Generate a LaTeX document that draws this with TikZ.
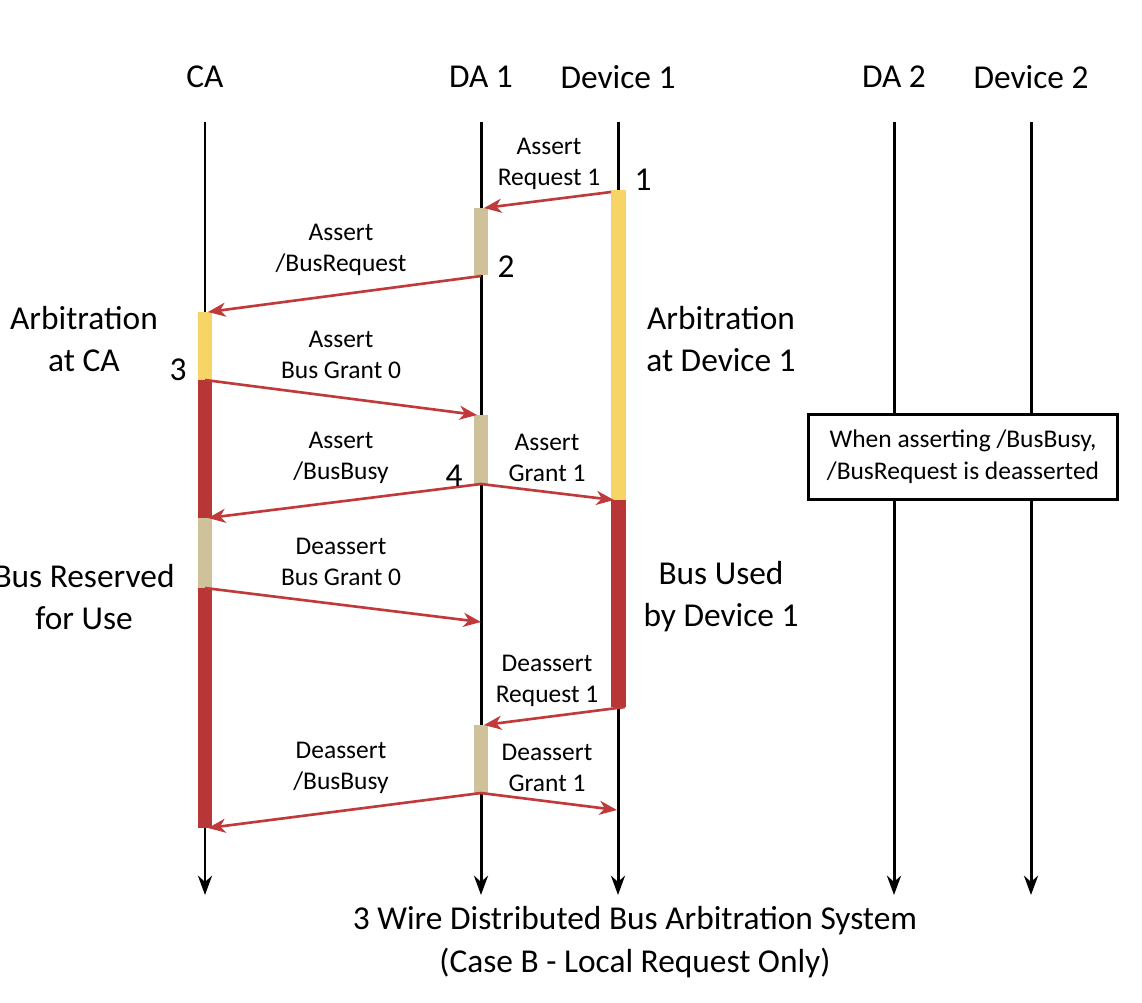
\documentclass[tikz,border=0pt]{standalone}
\usepackage{fontspec}
\setmainfont{Carlito}
\usetikzlibrary{arrows.meta}
\definecolor{busred}{HTML}{B83636}
\definecolor{arbyellow}{HTML}{F6D465}
\definecolor{waittan}{HTML}{CFC19A}
\definecolor{msgred}{HTML}{C0393B}

\begin{document}
\begin{tikzpicture}[
        x=0.02cm, y=-0.02cm,
        head/.style={font=\fontsize{19}{23}\selectfont},
        big/.style={font=\fontsize{19}{24}\selectfont, align=center},
        lbl/.style={font=\fontsize{14.5}{18}\selectfont, align=center},
        lifeline/.style={line width=1.7pt, -{Stealth[length=11pt,width=8pt]}},
        msg/.style={draw=msgred, line width=1.5pt, -{Stealth[length=10pt,width=8pt,inset=3pt]}},
        note/.style={draw, line width=1.7pt, fill=white, minimum width=6.2cm, minimum height=1.7cm, align=center, font=\fontsize{14.5}{18}\selectfont}
    ]
        \useasboundingbox (0,0) rectangle (1142,1002);

        % Heads
        \node[head] (ca) at (205,77) {CA};
        \node[head] (da1) at (481,77) {DA 1};
        \node[head] (dev1) at (618,77) {Device 1};
        \node[head] (da2) at (894,77) {DA 2};
        \node[head] (dev2) at (1031,77) {Device 2};

        % Lifelines
        \coordinate (caend) at (205,895);
        \coordinate (da1end) at (481,895);
        \coordinate (dev1end) at (618,895);
        \coordinate (da2end) at (894,895);
        \coordinate (dev2end) at (1031,895);
        \draw[lifeline] (205,122) -- (caend);
        \draw[lifeline] (481,122) -- (da1end);
        \draw[lifeline] (618,122) -- (dev1end);
        \draw[lifeline] (894,122) -- (da2end);
        \draw[lifeline] (1031,122) -- (dev2end);

        % Activity bars
        \fill[arbyellow] (611,190) rectangle (626,500);
        \fill[busred] (611,500) rectangle (626,707);
        \fill[waittan] (474,208) rectangle (488,275);
        \fill[waittan] (474,415) rectangle (488,484);
        \fill[waittan] (474,725) rectangle (488,793);
        \fill[arbyellow] (198,312) rectangle (212,380);
        \fill[busred] (198,380) rectangle (212,518);
        \fill[waittan] (198,518) rectangle (212,588);
        \fill[busred] (198,588) rectangle (212,828);

        % Message points
        \coordinate (req1s) at (611,192);
        \coordinate (req1e) at (484,208);
        \coordinate (busreqs) at (481,276);
        \coordinate (busreqe) at (208,312);
        \coordinate (grant0s) at (205,380);
        \coordinate (grant0e) at (477,415);
        \coordinate (busys) at (481,484);
        \coordinate (busye) at (208,518);
        \coordinate (grant1e) at (614,500);
        \coordinate (ungrant0s) at (205,588);
        \coordinate (ungrant0e) at (481,622);
        \coordinate (unreq1s) at (625,707);
        \coordinate (unreq1e) at (484,725);
        \coordinate (unbusys) at (481,793);
        \coordinate (unbusye) at (208,828);
        \coordinate (ungrant1e) at (617,810);

        % Messages
        \draw[msg] (req1s) -- (req1e);
        \draw[msg] (busreqs) -- (busreqe);
        \draw[msg] (grant0s) -- (grant0e);
        \draw[msg] (busys) -- (busye);
        \draw[msg] (busys) -- (grant1e);
        \draw[msg] (ungrant0s) -- (ungrant0e);
        \draw[msg] (unreq1s) -- (unreq1e);
        \draw[msg] (unbusys) -- (unbusye);
        \draw[msg] (unbusys) -- (ungrant1e);

        % Message labels
        \node[lbl] (lreq1) at (549,164) {Assert\\Request 1};
        \node[lbl] (lbusreq) at (341,250) {Assert\\/BusRequest};
        \node[lbl] (lgrant0) at (341,355) {Assert\\Bus Grant 0};
        \node[lbl] (lbusy) at (341,458) {Assert\\/BusBusy};
        \node[lbl] (lgrant1) at (547,458) {Assert\\Grant 1};
        \node[lbl] (lungrant0) at (341,562) {Deassert\\Bus Grant 0};
        \node[lbl] (lunreq1) at (547,681) {Deassert\\Request 1};
        \node[lbl] (lunbusy) at (341,768) {Deassert\\/BusBusy};
        \node[lbl] (lungrant1) at (547,768) {Deassert\\Grant 1};

        % Step numbers
        \node[head] (n1) at (643,180) {1};
        \node[head] (n2) at (506,267) {2};
        \node[head] (n3) at (178,370) {3};
        \node[head] (n4) at (454,476) {4};

        % Phase labels
        \node[big] (arbca) at (84,339) {Arbitration\\at CA};
        \node[big] (reserved) at (84,597) {Bus Reserved\\for Use};
        \node[big] (arbdev) at (721,339) {Arbitration\\at Device 1};
        \node[big] (used) at (721,597) {Bus Used\\by Device 1};

        % Note
        \node[note] (busynote) at (963,457) {When asserting /BusBusy,\\/BusRequest is deasserted};

        % Caption
        \node[big] (caption) at (635,942) {3 Wire Distributed Bus Arbitration System\\(Case B - Local Request Only)};
\end{tikzpicture}
\end{document}
